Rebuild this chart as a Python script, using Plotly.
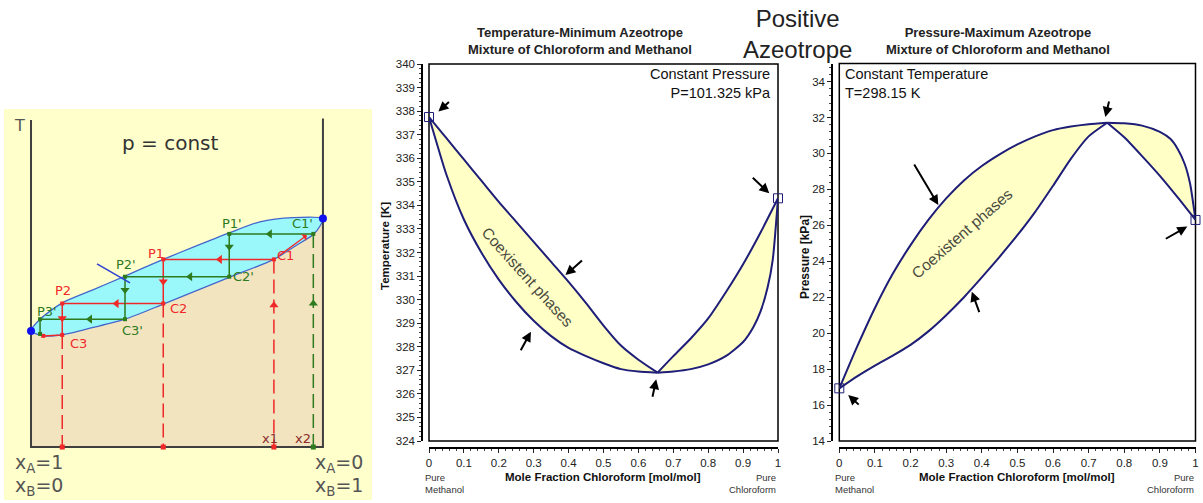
import plotly.graph_objects as go

# ---------------- data: Temperature-minimum azeotrope (constant P) ----------------
T_x_left = [0, 0.025, 0.05, 0.1, 0.15, 0.2, 0.25, 0.3, 0.35, 0.4, 0.45, 0.5, 0.55, 0.6, 0.655]
T_dew_left = [337.75, 337.3, 336.85, 335.95, 335.05, 334.15, 333.3, 332.45, 331.6, 330.75, 329.85, 328.9, 328.05, 327.45, 326.9]
T_bub_left = [337.75, 336.5, 335.3, 333.4, 332.0, 330.85, 329.9, 329.1, 328.45, 327.95, 327.6, 327.3, 327.05, 326.95, 326.9]
T_x_right_dew = [0.655, 0.7, 0.75, 0.8, 0.85, 0.9, 0.95, 1.0]
T_dew_right = [326.9, 327.6, 328.35, 329.2, 330.3, 331.5, 332.85, 334.3]
T_x_right_bub = [0.655, 0.7, 0.75, 0.8, 0.85, 0.9, 0.93, 0.95, 0.97, 0.985, 1.0]
T_bub_right = [326.9, 326.95, 327.05, 327.25, 327.6, 328.2, 328.85, 329.5, 330.5, 331.7, 334.3]

# ---------------- data: Pressure-maximum azeotrope (constant T) ----------------
P_x_left_bub = [0, 0.025, 0.05, 0.1, 0.15, 0.2, 0.25, 0.3, 0.35, 0.4, 0.45, 0.5, 0.55, 0.6, 0.65, 0.7, 0.752]
P_bub_left = [16.93, 18.1, 19.25, 21.4, 23.3, 24.9, 26.3, 27.5, 28.5, 29.3, 29.95, 30.5, 30.95, 31.3, 31.5, 31.63, 31.71]
P_x_right_bub = [0.752, 0.8, 0.85, 0.9, 0.93, 0.95, 0.97, 0.985, 1.0]
P_bub_right = [31.71, 31.68, 31.55, 31.2, 30.8, 30.25, 29.4, 28.3, 26.3]
P_x_left_dew = [0, 0.05, 0.1, 0.15, 0.2, 0.25, 0.3, 0.35, 0.4, 0.45, 0.5, 0.55, 0.6, 0.65, 0.7, 0.752]
P_dew_left = [16.93, 17.6, 18.2, 18.75, 19.35, 20.1, 21.0, 22.0, 23.1, 24.25, 25.45, 26.75, 28.2, 29.7, 30.95, 31.71]
P_x_right_dew = [0.752, 0.8, 0.85, 0.9, 0.95, 1.0]
P_dew_right = [31.71, 30.9, 29.85, 28.75, 27.55, 26.3]

x_tick_labels = ["0", "0.1", "0.2", "0.3", "0.4", "0.5", "0.6", "0.7", "0.8", "0.9", "1"]

# arrows: tip (x, value), tail offset in px
T_arrow_x = [0.027, 0.975, 0.391, 0.292, 0.651]
T_arrow_v = [337.98, 334.51, 331.04, 328.64, 326.62]
T_arrow_ax = [12, -18, 18, -11, -4]
T_arrow_ay = [-11, -17, -16, 20, 19]
P_arrow_x = [0.747, 0.278, 0.372, 0.977, 0.025]
P_arrow_v = [32.03, 27.13, 22.31, 25.93, 16.56]
P_arrow_ax = [4, -25, 8, -23, 12]
P_arrow_ay = [-17, -42, 22, 13, 11]

# ---------------- schematic (composition 0-100, temperature units 0-100) ----------------
lens_up_x = [0, 3.1, 10.7, 21, 32.2, 45.3, 56, 67.9, 78.4, 89.8, 100]
lens_up_T = [35.5, 39.1, 44.1, 48.0, 52.3, 57.4, 61.3, 65.5, 68.9, 70.2, 69.9]
lens_lo_x = [100, 99, 96.7, 90, 83.2, 67.9, 45.3, 32.2, 21, 10.7, 4.2, 0]
lens_lo_T = [69.9, 67.6, 65.0, 61.2, 57.4, 51.9, 43.7, 39.1, 36.5, 34.3, 34.0, 35.5]
red_path_x = [83.2, 45.3, 45.3, 10.7, 10.7, 4.2]
red_path_T = [57.4, 57.4, 43.9, 43.9, 34.3, 34.0]
green_path_x = [96.7, 67.9, 67.9, 32.2, 32.2, 3.1, 3.1]
green_path_T = [65.2, 65.2, 52.1, 52.1, 39.1, 39.1, 34.6]
red_drop_x = [10.7, 45.3, 83.2]
red_drop_T = [34.3, 43.9, 57.4]
green_drop_x = [96.7]
green_drop_T = [65.2]
red_arr_x = [64.7, 29.3, 45.3, 10.7, 83.2]
red_arr_T = [57.4, 43.9, 50.6, 39.4, 43.4]
red_arr_sym = ["triangle-left", "triangle-left", "triangle-down", "triangle-down", "triangle-up"]
green_arr_x = [81.8, 67.9, 54.5, 32.2, 20.2, 96.7]
green_arr_T = [65.2, 61.3, 52.1, 48.0, 39.1, 43.9]
green_arr_sym = ["triangle-left", "triangle-down", "triangle-left", "triangle-down", "triangle-left", "triangle-up"]
sch_labels = ["P1'", "C1'", "P1", "C1", "P2'", "C2'", "P2", "C2", "P3'", "C3'", "C3"]
sch_label_x = [68.7, 93.0, 42.7, 87.2, 32.6, 72.7, 10.8, 50.4, 5.5, 34.7, 16.2]
sch_label_T = [68.4, 68.4, 59.2, 58.7, 55.7, 52.1, 48.0, 42.4, 41.4, 35.8, 31.7]

W, H = 1203, 503
def pxx(v):
    return v / W
def pxy(v):
    return 1 - v / H

NAVY = "#1e1e78"
FILL = "#FFFFC6"
FONT = "Liberation Sans, Arial, sans-serif"
SFONT = "DejaVu Sans, Verdana, sans-serif"
RED = "#F02828"
GREEN = "#2E7A1E"

fig = go.Figure()

def lens(xa, ya, xb, yb, xr, yr):
    fig.add_trace(go.Scatter(x=xa + xb[::-1], y=ya + yb[::-1], mode="lines", fill="toself",
                             fillcolor=FILL, line=dict(width=0, shape="spline", smoothing=0.6),
                             xaxis=xr, yaxis=yr, hoverinfo="skip", showlegend=False))

def curve(xa, ya, xr, yr):
    fig.add_trace(go.Scatter(x=xa, y=ya, mode="lines", line=dict(color=NAVY, width=2, shape="spline", smoothing=0.6),
                             xaxis=xr, yaxis=yr, hoverinfo="skip", showlegend=False))

# middle chart
lens(T_x_left, T_dew_left, T_x_left, T_bub_left, "x", "y")
lens(T_x_right_dew, T_dew_right, T_x_right_bub, T_bub_right, "x", "y")
for a, b in [(T_x_left, T_dew_left), (T_x_left, T_bub_left), (T_x_right_dew, T_dew_right), (T_x_right_bub, T_bub_right)]:
    curve(a, b, "x", "y")
fig.add_trace(go.Scatter(x=[T_x_left[0], T_x_right_dew[-1]], y=[T_dew_left[0], T_dew_right[-1]], mode="markers",
                         marker=dict(symbol="square-open", size=9, color=NAVY, line=dict(width=1)),
                         cliponaxis=False, xaxis="x", yaxis="y", showlegend=False))

# right chart
lens(P_x_left_bub, P_bub_left, P_x_left_dew, P_dew_left, "x2", "y2")
lens(P_x_right_bub, P_bub_right, P_x_right_dew, P_dew_right, "x2", "y2")
for a, b in [(P_x_left_bub, P_bub_left), (P_x_right_bub, P_bub_right), (P_x_left_dew, P_dew_left), (P_x_right_dew, P_dew_right)]:
    curve(a, b, "x2", "y2")
fig.add_trace(go.Scatter(x=[P_x_left_bub[0], P_x_right_bub[-1]], y=[P_bub_left[0], P_bub_right[-1]], mode="markers",
                         marker=dict(symbol="square-open", size=9, color=NAVY, line=dict(width=1)),
                         cliponaxis=False, xaxis="x2", yaxis="y2", showlegend=False))

# schematic
tan_x = [0] + lens_lo_x[::-1] + [100, 0]
tan_T = [35.5] + lens_lo_T[::-1] + [0, 0]
fig.add_trace(go.Scatter(x=tan_x, y=tan_T, mode="lines", fill="toself", fillcolor="#F3E4C0",
                         line=dict(width=0), xaxis="x3", yaxis="y3", hoverinfo="skip", showlegend=False))
fig.add_trace(go.Scatter(x=lens_up_x + lens_lo_x[1:], y=lens_up_T + lens_lo_T[1:], mode="lines", fill="toself",
                         fillcolor="#9BF8FA", line=dict(color="#4466CC", width=1.3, shape="spline", smoothing=0.7),
                         xaxis="x3", yaxis="y3", hoverinfo="skip", showlegend=False))
fig.add_trace(go.Scatter(x=[0, 0, 100, 100], y=[100, 0, 0, 100.5], mode="lines", line=dict(color="#404040", width=2),
                         xaxis="x3", yaxis="y3", hoverinfo="skip", showlegend=False))
for dx, dT, col in [(red_drop_x, red_drop_T, RED), (green_drop_x, green_drop_T, GREEN)]:
    for xv, tv in zip(dx, dT):
        fig.add_trace(go.Scatter(x=[xv, xv], y=[tv, 0], mode="lines", line=dict(color=col, width=1.5, dash="14px,6px"),
                                 xaxis="x3", yaxis="y3", hoverinfo="skip", showlegend=False))
    fig.add_trace(go.Scatter(x=dx, y=[0] * len(dx), mode="markers", marker=dict(color=col, size=5, symbol="square"),
                             xaxis="x3", yaxis="y3", cliponaxis=False, hoverinfo="skip", showlegend=False))
fig.add_trace(go.Scatter(x=red_path_x, y=red_path_T, mode="lines+markers", line=dict(color=RED, width=1.5),
                         marker=dict(color=RED, size=4, symbol="square"), xaxis="x3", yaxis="y3",
                         hoverinfo="skip", showlegend=False))
fig.add_trace(go.Scatter(x=green_path_x, y=green_path_T, mode="lines+markers", line=dict(color=GREEN, width=1.5),
                         marker=dict(color=GREEN, size=4, symbol="square"), xaxis="x3", yaxis="y3",
                         hoverinfo="skip", showlegend=False))
fig.add_trace(go.Scatter(x=red_arr_x, y=red_arr_T, mode="markers", marker=dict(color=RED, size=8, symbol=red_arr_sym),
                         xaxis="x3", yaxis="y3", hoverinfo="skip", showlegend=False))
fig.add_trace(go.Scatter(x=green_arr_x, y=green_arr_T, mode="markers", marker=dict(color=GREEN, size=8, symbol=green_arr_sym),
                         xaxis="x3", yaxis="y3", hoverinfo="skip", showlegend=False))
fig.add_trace(go.Scatter(x=[22.6, 33.9], y=[56.0, 50.2], mode="lines", line=dict(color="#3040D0", width=1.5),
                         xaxis="x3", yaxis="y3", hoverinfo="skip", showlegend=False))
fig.add_trace(go.Scatter(x=[0, 100], y=[35.5, 69.9], mode="markers", marker=dict(color="#1010F0", size=8),
                         cliponaxis=False, xaxis="x3", yaxis="y3", hoverinfo="skip", showlegend=False))

ann = []
def note(**kw):
    kw.setdefault("showarrow", False)
    kw.setdefault("xanchor", "center")
    kw.setdefault("yanchor", "middle")
    ann.append(kw)

# arrows
for x, v, ax, ay in zip(T_arrow_x, T_arrow_v, T_arrow_ax, T_arrow_ay):
    note(x=x, y=v, xref="x", yref="y", ax=ax, ay=ay, text="", showarrow=True, arrowhead=2,
         arrowsize=1, arrowwidth=2, arrowcolor="black", standoff=0)
for x, v, ax, ay in zip(P_arrow_x, P_arrow_v, P_arrow_ax, P_arrow_ay):
    note(x=x, y=v, xref="x2", yref="y2", ax=ax, ay=ay, text="", showarrow=True, arrowhead=2,
         arrowsize=1, arrowwidth=2, arrowcolor="black", standoff=0)
note(x=94.5, y=64.8, xref="x3", yref="y3", ax=-30, ay=22, text="", showarrow=True, arrowhead=1,
     arrowsize=1, arrowwidth=1.3, arrowcolor=RED, standoff=0)
# Coexistent phases
note(x=0.284, y=330.96, xref="x", yref="y", text="Coexistent phases", textangle=48,
     font=dict(family=FONT, size=15.5, color="#4a4a40"))
note(x=0.344, y=25.56, xref="x2", yref="y2", text="Coexistent phases", textangle=-41,
     font=dict(family=FONT, size=15.5, color="#4a4a40"))
# in-plot headers
note(x=pxx(773), y=pxy(64), xref="paper", yref="paper", xanchor="right", yanchor="top", align="right",
     text="Constant Pressure<br>P=101.325 kPa", font=dict(family=FONT, size=14.5, color="#111"))
note(x=pxx(843), y=pxy(64), xref="paper", yref="paper", xanchor="left", yanchor="top", align="left",
     text="Constant Temperature<br>T=298.15 K", font=dict(family=FONT, size=14.5, color="#111"))
# titles
note(x=pxx(580), y=pxy(41), xref="paper", yref="paper",
     text="<b>Temperature-Minimum Azeotrope</b><br><b>Mixture of Chloroform and Methanol</b>",
     font=dict(family=FONT, size=13, color="#222"))
note(x=pxx(997.5), y=pxy(41), xref="paper", yref="paper",
     text="<b>Pressure-Maximum Azeotrope</b><br><b>Mixture of Chloroform and Methanol</b>",
     font=dict(family=FONT, size=13, color="#222"))
note(x=pxx(797), y=pxy(34), xref="paper", yref="paper",
     text="Positive<br>Azeotrope", font=dict(family=FONT, size=24, color="#222"))
# axis titles
note(x=pxx(385), y=pxy(246), xref="paper", yref="paper", textangle=-90,
     text="<b>Temperature [K]</b>", font=dict(family=FONT, size=11.5, color="#111"))
note(x=pxx(805), y=pxy(257), xref="paper", yref="paper", textangle=-90,
     text="<b>Pressure [kPa]</b>", font=dict(family=FONT, size=12, color="#111"))
for cx in (602.5, 1016.8):
    note(x=pxx(cx), y=pxy(477), xref="paper", yref="paper",
         text="<b>Mole Fraction Chloroform [mol/mol]</b>", font=dict(family=FONT, size=11.5, color="#111"))
for lx, rx in ((423, 778), (833, 1196)):
    note(x=pxx(lx), y=pxy(483), xref="paper", yref="paper", xanchor="left", align="left",
         text="Pure<br>Methanol", font=dict(family=FONT, size=9.5, color="#333"))
    note(x=pxx(rx), y=pxy(483), xref="paper", yref="paper", xanchor="right", align="right",
         text="Pure<br>Chloroform", font=dict(family=FONT, size=9.5, color="#333"))
# schematic text
note(x=-3.8, y=98.5, xref="x3", yref="y3", text="T", font=dict(family=SFONT, size=16, color="#555"))
note(x=47.6, y=93.0, xref="x3", yref="y3", text="p = const", font=dict(family=SFONT, size=20, color="#333"))
for lab, lx, lt in zip(sch_labels, sch_label_x, sch_label_T):
    note(x=lx, y=lt, xref="x3", yref="y3", text=lab,
         font=dict(family=SFONT, size=13, color=GREEN if "'" in lab else RED))
note(x=81.8, y=2.6, xref="x3", yref="y3", text="x1", font=dict(family=SFONT, size=13, color="#8B2C2C"))
note(x=93.3, y=2.6, xref="x3", yref="y3", text="x2", font=dict(family=SFONT, size=13, color="#8B2C2C"))
for bx, tA, tB in ((-6.2, "x<sub>A</sub>=1", "x<sub>B</sub>=0"), (96.6, "x<sub>A</sub>=0", "x<sub>B</sub>=1")):
    note(x=bx, y=-5.0, xref="x3", yref="y3", xanchor="left", text=tA, font=dict(family=SFONT, size=19, color="#555"))
    note(x=bx, y=-12.2, xref="x3", yref="y3", xanchor="left", text=tB, font=dict(family=SFONT, size=19, color="#555"))

shapes = [
    dict(type="rect", xref="x3 domain", yref="y3 domain", x0=0, x1=1, y0=0, y1=1, fillcolor="#FFFFCC",
         line=dict(width=0), layer="below"),
    dict(type="rect", xref="x domain", yref="y domain", x0=0, x1=1, y0=0, y1=1, line=dict(color="black", width=1.5), layer="below"),
    dict(type="rect", xref="x2 domain", yref="y2 domain", x0=0, x1=1, y0=0, y1=1, line=dict(color="black", width=1.5), layer="below"),
]

tickfont = dict(family=FONT, size=11.5, color="#222")
def xax(dom):
    return dict(domain=dom, range=[0, 1], anchor="free", position=pxy(448), showline=True, linecolor="black",
                linewidth=2, ticks="outside", ticklen=4, tickcolor="#222", tickvals=[i / 10 for i in range(11)],
                ticktext=x_tick_labels, minor=dict(ticks="outside", ticklen=2, dtick=0.02, tickcolor="#444"),
                showgrid=False, zeroline=False, tickfont=tickfont, fixedrange=True, automargin=False)

def yax(dom, rng, pos, dt, mdt):
    return dict(domain=dom, range=rng, anchor="free", position=pos, showline=True, linecolor="black",
                linewidth=2, ticks="outside", ticklen=4, tickcolor="#222", dtick=dt, tick0=rng[0],
                minor=dict(ticks="outside", ticklen=2, dtick=mdt, tickcolor="#444"),
                showgrid=False, zeroline=False, tickfont=tickfont, fixedrange=True, automargin=False)

fig.update_layout(
    width=W, height=H, autosize=False,
    margin=dict(l=0, r=0, t=0, b=0, pad=0, autoexpand=False),
    paper_bgcolor="white", plot_bgcolor="white",
    showlegend=False,
    xaxis=xax([pxx(429), pxx(778)]),
    yaxis=yax([pxy(441), pxy(64)], [324, 340], pxx(422.3), 1, 0.2),
    xaxis2=xax([pxx(839.3), pxx(1195.5)]),
    yaxis2=yax([pxy(441), pxy(63.6)], [14, 35], pxx(832.3), 2, 0.4),
    xaxis3=dict(domain=[pxx(4), pxx(372)], range=[-9.25, 116.8], visible=False, anchor="y3", fixedrange=True),
    yaxis3=dict(domain=[pxy(500), pxy(109)], range=[-16.2, 103.4], visible=False, anchor="x3", fixedrange=True),
    annotations=ann, shapes=shapes,
)
fig.write_html("out.html")
